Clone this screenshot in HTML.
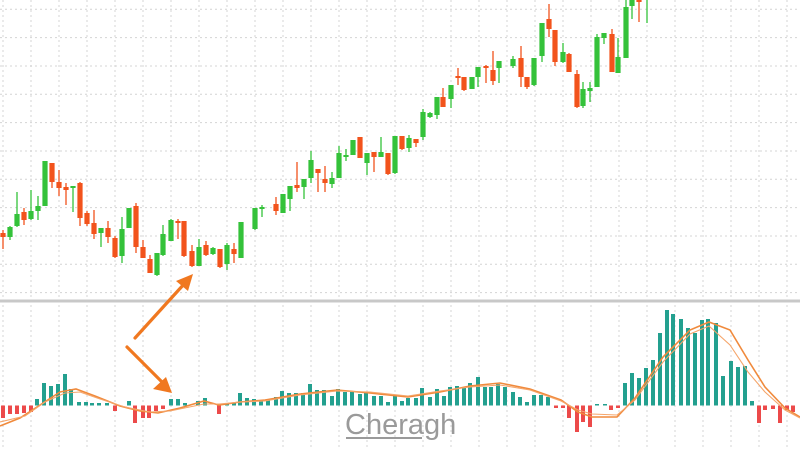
<!DOCTYPE html>
<html><head><meta charset="utf-8"><style>
html,body{margin:0;padding:0;background:#fff;width:800px;height:450px;overflow:hidden}
svg{display:block}
</style></head><body>
<svg id="s" width="800" height="450" xmlns="http://www.w3.org/2000/svg">
<rect width="800" height="450" fill="#fff"/>
<g id="grid"></g>
<rect x="0" y="299.5" width="800" height="3" fill="#c8c8c8"/>
<g id="c"></g>
<g id="h"></g>
<polyline fill="none" stroke="#f08a3c" stroke-width="1.6" points="0,426 20,418 40,405 60,392 76,389 95,396 120,406 140,411 158,413 180,408 204,401 219,405 240,402 265,400 300,394 337,390 370,393 408,397 440,392 470,386 500,383 530,389 561,400 578,412 592,417 617,417 635,398 663,357 690,330 709,322 730,330 748,360 765,387 785,408 800,417"/>
<polyline fill="none" stroke="#f5a56a" stroke-width="1.1" points="0,422 25,416 45,402 65,393 80,392 100,399 125,407 150,412 170,411 204,404 219,404 240,402 265,401 300,395 337,391 370,392 408,396 440,391 470,387 500,385 530,390 561,401 578,410 592,414 617,415 635,400 663,362 690,334 709,326 730,345 748,372 765,392 785,410 800,418"/>
<g stroke="#f07820" stroke-width="3.2" stroke-linecap="round" fill="#f07820">
<line x1="135" y1="338" x2="185" y2="283"/>
<polygon stroke="none" points="193,274 176,281 188,291"/>
<line x1="127" y1="347" x2="164" y2="384"/>
<polygon stroke="none" points="172,393 153,389 166,377"/>
</g>
<text x="345" y="434" font-family="Liberation Sans, sans-serif" font-size="29" fill="#9a9a9a">Cheragh</text>
<rect x="346" y="437" width="76" height="2" fill="#9a9a9a"/>
</svg>
<script>
const NS="http://www.w3.org/2000/svg";
function el(p,t,a){const e=document.createElementNS(NS,t);for(const k in a)e.setAttribute(k,a[k]);p.appendChild(e);return e;}
const g=document.getElementById('grid');
for(let x=3;x<800;x+=28){el(g,'line',{x1:x,y1:0,x2:x,y2:450,stroke:'#d4d4d4','stroke-width':1,'stroke-dasharray':'2,3'});}
for(let i=0;i<11;i++){const y=9.3+i*28.33;el(g,'line',{x1:0,y1:y,x2:800,y2:y,stroke:'#d4d4d4','stroke-width':1,'stroke-dasharray':'2,3'});}
// x, bodyTop, bodyBot, wickTop, wickBot, color g/r
const C=[
[3,233,237,230,249,'r'],[10,227,237,226,240,'g'],[17,214,226,192,227,'g'],[24,212,220,208,225,'r'],[31,211,219,190,220,'g'],[38,206,211,196,220,'g'],[45,161,206,161,206,'g'],[52,163,182,163,188,'r'],[59,182,188,170,196,'r'],[66,187,190,183,205,'r'],[73,186,188,186,212,'g'],[80,183,218,182,226,'r'],[87,213,224,211,226,'r'],[94,223,234,210,239,'r'],[101,228,233,228,247,'g'],[108,228,237,221,243,'r'],[115,238,257,236,258,'r'],[122,229,256,217,263,'g'],[129,208,228,208,228,'g'],[136,206,247,203,253,'r'],[143,247,258,240,258,'r'],[150,259,273,255,273,'r'],[157,253,275,253,276,'g'],[163,234,255,225,256,'g'],[171,220,241,219,241,'g'],[178,221,223,219,239,'r'],[184,221,256,221,257,'r'],[192,251,266,245,267,'r'],[199,247,266,239,266,'g'],[206,245,255,241,256,'r'],[213,248,254,247,255,'g'],[220,249,267,249,268,'r'],[227,245,264,243,270,'g'],[234,249,254,243,263,'r'],[241,222,258,222,258,'g'],
[255,208,229,208,230,'g'],[262,207,209,205,217,'g'],[276,204,211,197,215,'r'],[283,194,213,194,213,'g'],[290,186,199,186,211,'g'],[297,185,188,162,192,'r'],[304,179,187,179,199,'g'],[311,160,178,151,183,'g'],[318,169,173,169,192,'r'],[325,179,183,166,192,'r'],[332,178,184,172,188,'g'],[339,153,178,146,178,'g'],[346,155,157,149,161,'g'],[353,140,155,140,155,'g'],[360,137,158,137,158,'r'],[367,153,163,153,175,'g'],[374,152,157,152,172,'r'],[381,152,157,137,157,'g'],[388,153,174,153,175,'r'],[395,136,173,136,174,'g'],[402,136,149,136,150,'r'],[409,138,148,135,152,'g'],[416,139,143,139,147,'r'],[423,112,137,109,140,'g'],[430,113,117,112,118,'g'],[437,97,115,97,119,'g'],[443,97,107,88,107,'r'],[451,85,99,85,108,'g'],[458,76,78,68,85,'r'],[464,77,90,77,91,'r'],[472,77,89,77,89,'g'],[478,67,77,67,87,'g'],[486,66,68,65,83,'r'],[493,70,81,51,85,'r'],[499,61,68,61,83,'g'],[513,59,66,56,68,'g'],[521,58,77,46,87,'r'],[527,77,87,77,89,'r'],[534,58,85,58,86,'g'],[542,23,56,23,62,'g'],[549,19,29,4,37,'r'],[555,30,62,30,66,'r'],[563,52,62,43,63,'g'],[569,54,72,53,72,'r'],[577,74,107,70,108,'r'],[583,89,106,82,108,'g'],[590,88,91,82,102,'g'],[597,37,87,34,87,'g'],[604,33,38,33,44,'g'],[612,34,72,29,72,'r'],[618,57,73,38,73,'g'],[626,7,58,0,58,'g'],[632,0,6,0,19,'g'],[639,-2,2,0,22,'r'],[647,-3,-1,0,23,'g']];
const cg=document.getElementById('c');
for(const [x,bt,bb,wt,wb,c] of C){const col=c=='g'?'#34c23a':'#f2531c';
el(cg,'line',{x1:x,y1:wt,x2:x,y2:wb,stroke:col,'stroke-width':1.3});
el(cg,'rect',{x:x-2.6,y:bt,width:5.2,height:Math.max(bb-bt,1.5),fill:col});}
// histogram: x, top/bottom value (y)
const H=[[3,418],[10,414],[17,414],[24,413],[31,412],[37,399],[44,383],[51,386],[58,384],[65,374],[71,389],[79,402],[86,402],[92,403],[99,403],[107,403],[115,411],[129,401],[135,423],[143,418],[149,418],[156,411],[163,409],[171,399],[178,399],[185,403],[198,401],[205,398],[219,414],[227,403],[234,403],[240,393],[247,398],[254,399],[261,400],[268,399],[276,397],[282,391],[289,393],[296,393],[303,393],[310,384],[317,390],[324,390],[332,396],[338,389],[345,392],[352,392],[360,394],[366,392],[374,396],[381,396],[388,402],[395,396],[402,401],[408,398],[416,398],[422,388],[430,397],[437,389],[444,396],[450,387],[457,386],[464,387],[470,383],[478,377],[485,387],[491,387],[498,384],[505,387],[513,392],[520,397],[527,402],[534,395],[541,395],[548,397],[556,408],[563,408],[569,418],[577,432],[583,422],[590,427],[597,404],[605,404],[611,410],[618,408],[625,383],[632,373],[639,378],[646,368],[653,360],[660,333],[667,310],[673,314],[681,319],[688,328],[695,333],[702,320],[708,319],[716,323],[723,376],[731,361],[738,367],[745,366],[752,401],[759,423],[765,410],[773,409],[780,423],[787,410],[793,412]];
const hg=document.getElementById('h');const Z=405.5;
for(const [x,y] of H){const up=y<Z;el(hg,'rect',{x:x-2,y:Math.min(y,Z),width:4,height:Math.max(Math.abs(Z-y),1),fill:up?'#23a08f':'#ec4a4a'});}
</script>
</body></html>
